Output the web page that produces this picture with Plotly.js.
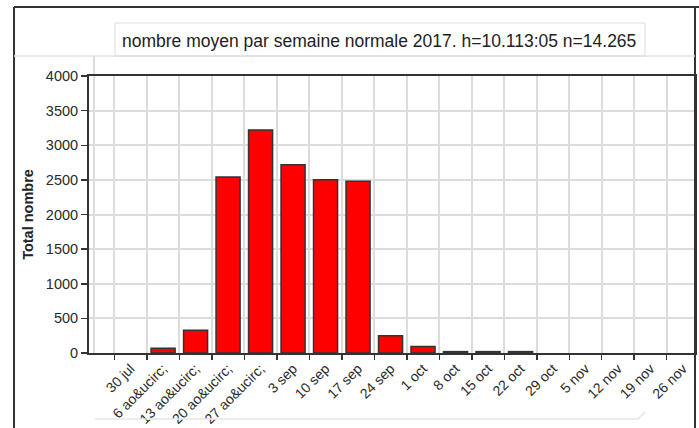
<!DOCTYPE html>
<html>
<head>
<meta charset="utf-8">
<script src="https://cdn.plot.ly/plotly-3.0.1.min.js"></script>
<style>html,body{margin:0;padding:0;background:#fff;}#chart{width:699px;height:428px;}</style>
</head>
<body>
<div id="chart"></div>
<script>
const categories = ["30 jul","6 ao&amp;ucirc;","13 ao&amp;ucirc;","20 ao&amp;ucirc;","27 ao&amp;ucirc;","3 sep","10 sep","17 sep","24 sep","1 oct","8 oct","15 oct","22 oct","29 oct","5 nov","12 nov","19 nov","26 nov"];
const totals = [0,70,330,2540,3220,2720,2500,2480,250,95,20,20,20,0,0,0,0,0];
const yTicks = [0,500,1000,1500,2000,2500,3000,3500,4000];
const titleText = "nombre moyen par semaine normale 2017. h=10.113:05 n=14.265";
const yTitle = "Total nombre";

const W = 699, H = 428, L = 89, R = 4, T = 76, B = 75;
const pw = W - L - R, ph = H - T - B;
const px = x => (x - L) / pw;
const py = y => (H - B - y) / ph;

const shapes = [
  {type:'line', xref:'paper', yref:'paper', x0:px(14), x1:px(14), y0:py(7), y1:py(440), line:{color:'#333', width:2}},
  {type:'line', xref:'paper', yref:'paper', x0:px(14), x1:px(710), y0:py(7), y1:py(7), line:{color:'#333', width:2}},
  {type:'line', xref:'paper', yref:'paper', x0:px(695), x1:px(695), y0:py(7), y1:py(440), line:{color:'#333', width:2}},
  {type:'line', xref:'paper', yref:'paper', x0:px(14), x1:px(695), y0:py(56), y1:py(56), line:{color:'#e2e2e2', width:1.5}},
  {type:'line', xref:'paper', yref:'paper', x0:px(94), x1:px(94), y0:py(56), y1:py(353), line:{color:'#dcdcdc', width:2}, layer:'below'},
  {type:'rect', xref:'paper', yref:'paper', x0:px(115), x1:px(645), y0:py(23), y1:py(56), line:{color:'#dddddd', width:1}},
  {type:'path', xref:'paper', yref:'paper', path:'M '+px(95)+' '+py(419)+' L '+px(638)+' '+py(419)+' L '+px(645)+' '+py(412), line:{color:'#e6e6e6', width:1.5}}
];

const trace = {
  type:'bar',
  x: categories,
  y: totals,
  width: 0.74,
  marker:{color:'#ff0000', line:{color:'#333333', width: totals.map(v => v > 0 ? 1.5 : 0)}},
  hoverinfo:'x+y'
};

const layout = {
  width: W, height: H,
  margin:{l:L, r:R, t:T, b:B, pad:0},
  paper_bgcolor:'#ffffff', plot_bgcolor:'#ffffff',
  font:{family:'Liberation Sans, Arial, sans-serif', size:15, color:'#333'},
  showlegend:false,
  xaxis:{
    type:'category',
    range:[-1.28, 17.37],
    tickson:'boundaries',
    ticks:'outside', ticklen:5, tickwidth:1.5, tickcolor:'#333',
    tickangle:-45,
    tickfont:{size:14, color:'#2a2a2a'},
    showgrid:true, gridcolor:'#dcdcdc', gridwidth:2,
    showline:true, linecolor:'#333', linewidth:2, mirror:true,
    zeroline:false, fixedrange:true
  },
  yaxis:{
    range:[0,4000],
    tickvals: yTicks,
    ticktext: yTicks.map(String),
    ticks:'outside', ticklen:6, tickwidth:1.5, tickcolor:'#333',
    tickfont:{size:14.5, color:'#2a2a2a'},
    showgrid:true, gridcolor:'#dcdcdc', gridwidth:2,
    showline:true, linecolor:'#333', linewidth:2, mirror:true,
    zeroline:false, fixedrange:true,
    title:{text:'<b>'+yTitle+'</b>', font:{size:14.5, color:'#222'}, standoff:9}
  },
  shapes: shapes,
  annotations:[{
    xref:'paper', yref:'paper', x:px(379), y:py(41), xanchor:'center', yanchor:'middle',
    text:titleText, showarrow:false, font:{size:17.5, color:'#222'}
  }]
};

Plotly.newPlot('chart', [trace], layout, {displayModeBar:false, staticPlot:true});
</script>
</body>
</html>
